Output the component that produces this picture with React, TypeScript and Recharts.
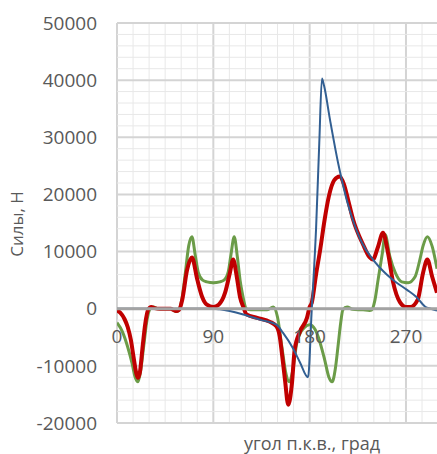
import { LineChart, Line, XAxis, YAxis, ReferenceLine, ReferenceDot } from "recharts";

// crank angle, deg  /  force, N
const redAngles = [
  0, 3, 7, 10, 13, 15.5, 18, 19.6, 21.5, 24, 26.5, 29, 32, 35, 40, 50, 55, 58,
  61, 65.5, 70, 75, 79.5, 84, 90, 95, 101, 105.5, 108.5, 112, 115, 118, 121,
  131, 143, 149, 152, 154, 157, 160, 163.5, 166, 171, 177.5, 180, 182, 186,
  190, 194, 198, 203, 208, 212, 216, 220.6, 230, 236, 239, 244, 248.5, 253,
  258, 264.5, 270, 274, 281, 286, 290, 294.5, 299,
];
const redForce = [
  -300, -700, -1800, -3200, -5500, -8500, -11300, -12100, -11000, -6500, -2500,
  -200, 300, 100, 0, 0, -400, -200, 1600, 6800, 8950, 5100, 2100, 700, 300, 700,
  2800, 6300, 8600, 5500, 2000, 300, -1000, -1600, -2300, -3100, -4800, -7700,
  -12500, -16800, -13000, -7200, -4000, -1600, 300, 1050, 6000, 10500, 15600,
  19700, 22500, 23150, 21800, 19000, 15600, 11200, 9000, 8600, 10900, 13300,
  10000, 4600, 1100, 300, 300, 1600, 6300, 8600, 5600, 2800,
];

const greenAngles = [
  0, 5, 10, 14, 17, 19.6, 22, 25, 28, 31, 34, 38, 50, 55, 58, 61, 64, 67, 70,
  73, 76, 80, 84, 90, 96, 100, 104, 106.5, 109.5, 112.5, 115, 117, 121, 125,
  140, 146, 150, 154, 158, 161, 164, 168, 172, 175, 180, 185, 188, 194, 198,
  201, 204, 206.5, 209, 211, 215, 220, 230, 236, 238, 241, 244, 248, 250.5,
  255, 260, 266, 272, 278.5, 283, 286, 290, 294.5, 299,
];
const greenForce = [
  -2450, -4000, -6700, -9500, -12000, -12800, -11000, -6500, -2000, 0, 300, 0,
  0, -500, -200, 2100, 6500, 11000, 12600, 9500, 6300, 5000, 4700, 4560, 4700,
  5000, 6500, 9500, 12600, 9000, 5000, 2800, 0, -200, -200, 300, -1500, -6600,
  -11500, -12800, -11000, -6000, -4000, -3300, -2800, -3600, -4900, -8900,
  -12000, -12800, -10500, -6600, -2500, -200, 300, -100, -200, -300, -200,
  1500, 5100, 9800, 13000, 9100, 6300, 4700, 4560, 5600, 8600, 11000, 12600,
  10900, 7000,
];

const blueAngles = [
  0, 90, 96, 118, 135, 149, 155, 164, 171, 178.5, 182, 186, 189, 191.5, 193.5,
  199, 206.5, 210, 215, 220.6, 229, 238, 245, 252, 261, 271, 280, 288, 293, 299,
];
const blueForce = [
  0, 0, -100, -1000, -2000, -2800, -4200, -6800, -9400, -12000, 0, 14000,
  29000, 40300, 39000, 33100, 25600, 22600, 18800, 15400, 11500, 8900, 7300,
  6000, 4600, 3300, 2000, 350, 0, -300,
];

const yTicks = [-20000, -10000, 0, 10000, 20000, 30000, 40000, 50000];
const xTickLabels = [0, 90, 180, 270];

const X_MAX = 299;
const MINOR_X = 15;
const MINOR_Y = 2000;

const toPoints = (angles: number[], force: number[]) =>
  angles.map((angle, i) => ({ angle, force: force[i] }));

const minorXs = Array.from({ length: Math.floor(X_MAX / MINOR_X) + 1 }, (_, i) => i * MINOR_X);
const minorYs = Array.from({ length: 36 }, (_, i) => -20000 + i * MINOR_Y);

const textColor = "#595959";

export default function App() {
  return (
    <div
      style={{
        position: "absolute",
        left: 0,
        top: 0,
        width: 437,
        height: 454,
        fontFamily: "'Open Sans', sans-serif",
        background: "#fff",
        overflow: "hidden",
      }}
    >
      <LineChart
        width={437}
        height={454}
        margin={{ top: 23, right: 0, left: 0, bottom: 31 }}
      >
        <XAxis
          type="number"
          dataKey="angle"
          domain={[0, X_MAX]}
          allowDataOverflow
          hide
        />
        <YAxis
          type="number"
          domain={[-20000, 50000]}
          ticks={yTicks}
          interval={0}
          allowDataOverflow
          axisLine={false}
          tickLine={false}
          tickMargin={14}
          width={117}
          tick={{ fill: textColor, fontSize: 19 }}
        />

        {minorXs.map((v) => (
          <ReferenceLine
            key={"vx" + v}
            x={v}
            stroke={v % 90 === 0 ? "#d4d4d4" : "#e8e8e8"}
            strokeWidth={v % 90 === 0 ? 2 : 1}
          />
        ))}
        {minorYs.map((v) => (
          <ReferenceLine
            key={"hy" + v}
            y={v}
            stroke={v % 10000 === 0 ? "#d4d4d4" : "#e8e8e8"}
            strokeWidth={v % 10000 === 0 ? 2 : 1}
          />
        ))}

        {xTickLabels.map((v) => (
          <ReferenceDot
            key={"xl" + v}
            x={v}
            y={-4900}
            r={0}
            fill="none"
            stroke="none"
            label={{ value: String(v), position: "center", fill: textColor, fontSize: 19 }}
          />
        ))}

        <Line
          data={toPoints(greenAngles, greenForce)}
          dataKey="force"
          type="monotone"
          stroke="#6b9c48"
          strokeWidth={3}
          dot={false}
          isAnimationActive={false}
        />
        <Line
          data={toPoints(redAngles, redForce)}
          dataKey="force"
          type="monotone"
          stroke="#c00000"
          strokeWidth={4}
          dot={false}
          isAnimationActive={false}
        />
        <Line
          data={toPoints(blueAngles, blueForce)}
          dataKey="force"
          type="monotone"
          stroke="#325f92"
          strokeWidth={2}
          dot={false}
          isAnimationActive={false}
        />
        <ReferenceLine y={0} stroke="#a3a3a3" strokeWidth={3} zIndex={2000} />
      </LineChart>

      <div
        style={{
          position: "absolute",
          left: 16,
          top: 224,
          transform: "translate(-50%, -50%) rotate(-90deg)",
          whiteSpace: "nowrap",
          fontSize: 17,
          color: textColor,
        }}
      >
        Силы, Н
      </div>
      <div
        style={{
          position: "absolute",
          left: 312,
          top: 443,
          transform: "translate(-50%, -50%)",
          whiteSpace: "nowrap",
          fontSize: 18,
          color: textColor,
        }}
      >
        угол п.к.в., град
      </div>
    </div>
  );
}
